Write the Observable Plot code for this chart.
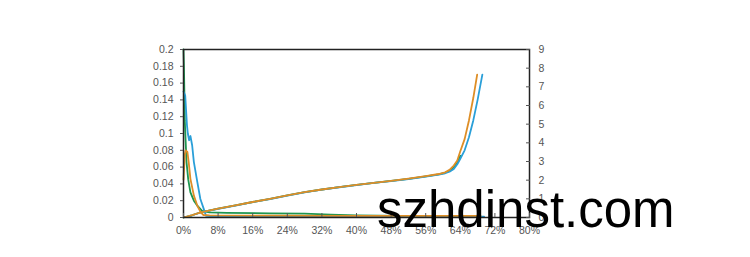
<!DOCTYPE html>
<html>
<head>
<meta charset="utf-8">
<script src="https://cdn.jsdelivr.net/npm/d3@7"></script>
<script src="https://cdn.jsdelivr.net/npm/@observablehq/plot@0.6"></script>
<style>
  html, body { margin: 0; padding: 0; background: #fff; }
  #wrap { position: relative; width: 750px; height: 257px; overflow: hidden; }
  #wm { position: absolute; left: 377px; top: 183.5px; font-family: "Liberation Sans", Arial, sans-serif;
        font-size: 51px; line-height: 51px; color: #000; white-space: nowrap; }
</style>
</head>
<body>
<div id="wrap"><div id="chart"></div><div id="wm">szhdinst.com</div></div>
<script>
// x axis (percent)
const xTicks = [0, 8, 16, 24, 32, 40, 48, 56, 64, 72, 80];
// left axis ticks
const leftTicks = [0, 0.02, 0.04, 0.06, 0.08, 0.1, 0.12, 0.14, 0.16, 0.18, 0.2];
// right axis ticks
const rightTicks = [0, 1, 2, 3, 4, 5, 6, 7, 8, 9];

// right-axis series (0..9)
const orangeRX = [0, 2, 4, 8, 12, 16, 20, 24, 28, 32, 36, 40, 44, 48, 52, 56, 59, 60.5, 61.5, 62.5, 63.3, 64, 65, 66, 67, 67.9];
const orangeRY = [0, 0.13, 0.28, 0.47, 0.65, 0.83, 1.0, 1.18, 1.36, 1.5, 1.63, 1.75, 1.86, 1.96, 2.08, 2.22, 2.33, 2.42, 2.55, 2.78, 3.05, 3.55, 4.2, 5.2, 6.4, 7.65];
const blueRX = [0, 2, 4, 8, 12, 16, 20, 24, 28, 32, 36, 40, 44, 48, 52, 56, 59, 60.5, 61.5, 62.5, 63.3, 64, 65, 66, 67, 68, 69.1];
const blueRY = [0, 0.12, 0.27, 0.46, 0.64, 0.82, 0.99, 1.17, 1.35, 1.49, 1.62, 1.74, 1.85, 1.95, 2.06, 2.19, 2.3, 2.37, 2.45, 2.6, 2.85, 3.15, 3.6, 4.3, 5.2, 6.3, 7.65];
const greenRX = [0, 2, 4, 8, 12, 16, 20, 24, 28, 32, 36, 40, 44, 48, 52, 56, 59, 60.5, 61.5, 62.5, 63.3, 64];
const greenRY = [0, 0.12, 0.28, 0.47, 0.65, 0.83, 1.0, 1.18, 1.36, 1.5, 1.63, 1.75, 1.86, 1.96, 2.07, 2.2, 2.31, 2.4, 2.5, 2.7, 2.95, 3.3];

// left-axis series (0..0.2)
const greenLX = [0, 0.1, 0.2, 0.3, 0.5, 0.7, 1.1, 1.6, 2.4, 3.2, 4.3, 6, 10, 20, 28, 34, 40, 50, 58, 64];
const greenLY = [0.2, 0.18, 0.15, 0.115, 0.09, 0.066, 0.045, 0.03, 0.02, 0.014, 0.008, 0.006, 0.0055, 0.005, 0.0045, 0.0035, 0.0025, 0.0018, 0.0012, 0.0005];
const orangeLX = [0, 0.3, 0.5, 0.9, 1.2, 1.6, 2.4, 3.2, 4.0, 4.6, 6, 20, 40, 60, 68.7];
const orangeLY = [0.045, 0.075, 0.08, 0.078, 0.066, 0.046, 0.026, 0.014, 0.006, 0.003, 0.0025, 0.0022, 0.002, 0.002, 0.002];
const blueLX = [0, 0.4, 0.8, 1.0, 1.3, 1.6, 2.0, 2.4, 3.2, 3.9, 4.7, 5.2, 8, 40, 69.5];
const blueLY = [0.15, 0.145, 0.11, 0.1, 0.092, 0.097, 0.086, 0.066, 0.042, 0.022, 0.01, 0.002, 0.001, 0.001, 0.001];

const ORANGE = "#DE8E26", BLUE = "#2A9FD8", GREEN = "#1E9650";
const K = 0.2 / 9; // right-axis units -> left-axis units

const zip = (xs, ys, s = 1) => xs.map((x, i) => ({x, y: ys[i] * s}));

const lineOpts = (c) => ({x: "x", y: "y", stroke: c, strokeWidth: 1.8, curve: "linear"});

const chart = Plot.plot({
  width: 750,
  height: 257,
  marginLeft: 183,
  marginRight: 221,
  marginTop: 49,
  marginBottom: 40,
  style: {fontFamily: "'Liberation Sans', Arial, sans-serif", fontSize: "10.5px", color: "#555", background: "#fff"},
  x: {domain: [0, 80]},
  y: {domain: [0, 0.2]},
  marks: [
    Plot.line(zip(greenLX, greenLY), lineOpts(GREEN)),
    Plot.line(zip(greenRX, greenRY, K), lineOpts(GREEN)),
    Plot.line(zip(blueLX, blueLY), lineOpts(BLUE)),
    Plot.line(zip(blueRX, blueRY, K), lineOpts(BLUE)),
    Plot.line(zip(orangeLX, orangeLY), lineOpts(ORANGE)),
    Plot.line(zip(orangeRX, orangeRY, K), lineOpts(ORANGE)),
    Plot.frame({stroke: "#222", strokeWidth: 1.5}),
    Plot.axisY(leftTicks, {anchor: "left", tickSize: 3, tickPadding: 7, label: null, tickFormat: d => String(d)}),
    Plot.axisY(rightTicks, {anchor: "right", y: d => d * K, tickSize: -4, tickPadding: 13, label: null, tickFormat: d => String(d)}),
    Plot.axisX(xTicks, {anchor: "bottom", tickSize: -4, tickPadding: 13, label: null, tickFormat: d => d + "%"})
  ]
});
document.getElementById("chart").appendChild(chart);
</script>
</body>
</html>
